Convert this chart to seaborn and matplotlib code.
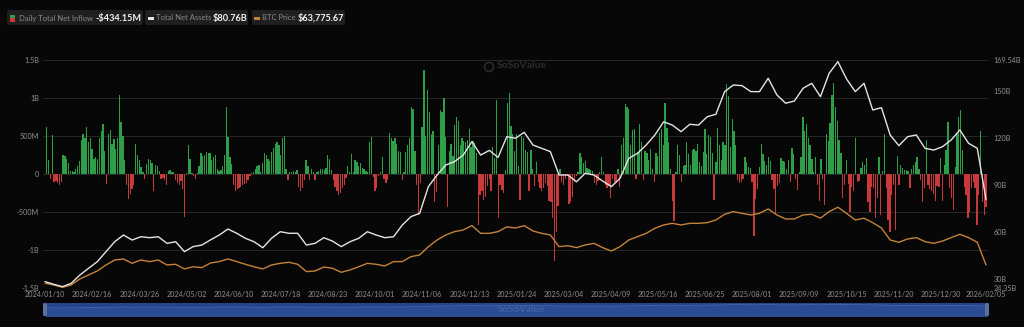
import numpy as np
import pandas as pd
import matplotlib
matplotlib.use("Agg")
import matplotlib.pyplot as plt
import matplotlib.transforms as mtransforms
from matplotlib.patches import Rectangle, FancyBboxPatch, Circle
import seaborn as sns

# ---------------- data ----------------
first_day = "2024-01-10"
last_day = "2026-02-05"
market_holidays = [
    "2024-01-15", "2024-02-19", "2024-03-29", "2024-05-27", "2024-06-19",
    "2024-07-04", "2024-09-02", "2024-11-28", "2024-12-25",
    "2025-01-01", "2025-01-09", "2025-01-20", "2025-02-17", "2025-04-18",
    "2025-05-26", "2025-06-19", "2025-07-04", "2025-09-01", "2025-11-27",
    "2025-12-25", "2026-01-01", "2026-01-19",
]

# daily total net inflow, millions USD (one value per trading day)
flows_2024_h1 = [
    0, 620, 190, -60, 510, -110, -90, -120, -150,
    -110, 250, 240, 200, 150, 40, 40, 30, 60, 100,
    170, 450, 520, 480, 620, 420, 470, 330, 200,
    230, 200, 480, 570, 660, 300, -130, 520, 580, 400,
    460, 330, 470, 1040, 680, 500, 180, -150, -330, -260,
    -200, -150, 400, 250, 180, 90, 20, -60, 130, 200,
    190, 140, -230, 120, 100, 40, -60, -50, -80, -140,
    40, 50, 30, 20, -80, -120, -150, -90, -200,
    -560, 10, 380, 200, 10, -20, -60, 10, 100,
]
flows_2024_q3 = [
    270, 240, 250, 290, 270, 280, 180, 220, 250, 60,
    40, 50, 100, 250, 887, 490, 220, 130, -150,
    -230, -200, -180, -170, -150, -130, -120, -80, -20, 10,
    30, 60, 110, 120, 20, 140, 280, 250, 200, 170,
    290, 340, 400, 420, 380, 250, 470, 500, 70, -80,
    20, 30, 40, 20, 50, -170, -230, -190, -80,
    180, 110, -80, 60, 30, -80, 30, 40, 60, 70,
    50, 80, 250, 200, 50, -80, -170, -230, -280, -250,
    -190, -140, -50, 110, 20, 260, 30, 190, 160,
    110,
]
flows_2024_q4 = [
    140, 80, 60, 40, 20, 420, 490, -40, -230,
    -190, -30, 20, 230, -60, -120, -80, 540, 470,
    440, 470, 400, 300, 290, -80, 20, 290, 380, 470,
    880, 860, 300, -150, -540, -120, 620, 1370, 500, 1110,
    820, 520, 560, -365, -240, 380, 840, 810, 1000, 490,
    -430, 300, 390, 240, 650, 750, 700, 380, 470,
    430, 420, 450, 590, 350, 430, 410, 270, -670, -270,
    -220, -340, -300, -160, -60, -230, 360, 210, 970,
    -580, -150, -210, -250, 50, 930, 1060, 630, 530, 300,
    520, 100, -340, 500, 470, 310,
]
flows_2025_h1 = [
    290, -230, 310, 60,
    -160, 160, -100, -190, -230, -180, -120, -160, -360,
    -370, -580, -1140, -760, -420, 60, -100, -140, -70, -30,
    -400, -370, -300, -100, -30, 30, 270, 220, 150,
    170, 80, 70, 50, 40, -120, -140, -90, 20, 230,
    30, -150, -190, -160, -320, -60, -100, -100, 70,
    -170, 380, 470, 920, 880, 860, 380, 580, 590, -60,
    290, 660, 420, -80, 300, 280, 190, 330, 70, -100,
    280, 240, 540, 590, 380, 930, 600, 420, 60,
    -360, -620, 20, 380, 250, -100, 100, 120,
]
flows_2025_q3 = [
    420, 260,
    120, 310, 330, 300, 400, 160, 110, 290, 590, 260,
    510, 490, 280, -340, 160, 600, 380, 190, 420, 380,
    1180, 1030, 360, 730, 560, 380, -80, -120, -100, -60,
    220, 160, 90, 80, -110, -820, -330, -200, 90,
    400, 260, 170, 120, 230, 170, -80, -200, -520,
    -160, -120, 210, 170, 160, 70, 180, -110, 340, 260,
    -60, -210, 30, 230, 750, 560, 660, 480, 380, 200,
    30, 230, -140, -360, 200, -70, -410, 520, 440,
    670, 1040, 1200, 880, 700, 450, 280, -320, -150,
]
flows_2025_q4 = [
    180,
    -130, -500, -170, -230, 470, -100, -90, 80, 160, 120,
    210, -370, -500, -170, -190, -580, -320, 230, -540, 40,
    520, -190, -600, -760, -280, -140, -740, 240, -150,
    120, 80, 50, 50, 40, -190, 70, 120,
    160, 230, 70, -80, -370, -190, 450, -150, -200, -220,
    -260, -360, -160, -170, 210, -360, 120, 310, 690, -190,
    -320, -480, 90, 520, 750, 840, 310, -170, -280, -580,
    -500, -190, -110, -180, -670, -280, 560, -370, -540,
    -434.15,
]

# total net assets (billions USD), evenly sampled along the trading days
total_net_assets = [
    28.4, 26.7, 25.2, 27.3, 32.6, 36.9, 41.1, 47.5, 53.8, 58.1,
    54.9, 57.0, 56.4, 57.0, 52.8, 53.8, 47.5, 50.7, 51.7, 55.0,
    58.1, 61.9, 59.2, 56.0, 53.8, 50.0, 56.0, 60.2, 59.2, 59.2,
    51.7, 52.8, 56.4, 54.2, 50.7, 53.8, 56.0, 60.2, 58.1, 56.4,
    57.0, 64.4, 69.8, 71.9, 88.9, 96.3, 102.7, 104.8, 109.0, 117.6,
    109.0, 112.0, 107.5, 120.7, 119.7, 123.5, 115.4, 113.3, 111.2, 96.3,
    96.3, 92.0, 97.4, 96.3, 92.5, 88.9, 94.2, 106.9, 110.1, 115.4,
    121.8, 130.2, 128.1, 123.9, 128.6, 128.1, 133.4, 135.0, 149.4, 153.6,
    153.2, 149.4, 149.4, 157.9, 147.3, 142.0, 143.4, 151.5, 154.7, 146.2,
    161.1, 168.5, 157.4, 149.4, 154.7, 137.7, 139.2, 121.8, 115.0, 120.7,
    121.8, 113.3, 112.2, 114.3, 118.6, 125.0, 116.5, 113.3, 80.76,
]
# BTC price (thousands USD), evenly sampled along the trading days
btc_price = [
    44.6, 42.8, 40.3, 42.8, 49.1, 53.3, 57.5, 63.8, 69.0, 70.1,
    65.5, 69.0, 67.3, 69.0, 63.8, 64.5, 59.6, 61.9, 61.0, 65.9,
    67.3, 70.1, 67.3, 64.5, 61.9, 59.6, 63.8, 65.5, 66.6, 64.5,
    56.8, 57.5, 61.6, 60.3, 56.1, 58.5, 61.9, 65.5, 64.5, 62.7,
    67.3, 67.3, 72.5, 74.3, 83.0, 90.0, 95.3, 98.8, 100.5, 105.1,
    97.0, 97.0, 98.8, 103.8, 102.6, 105.1, 99.5, 97.0, 95.3, 83.0,
    84.0, 82.0, 84.8, 86.5, 82.0, 78.5, 83.0, 90.0, 93.5, 97.0,
    102.3, 105.8, 107.5, 105.8, 107.5, 107.5, 108.2, 111.0, 117.0, 119.8,
    118.0, 116.3, 118.0, 122.6, 116.3, 112.1, 112.1, 116.3, 117.0, 112.9,
    119.8, 124.4, 118.0, 111.0, 112.9, 108.2, 102.6, 90.0, 87.6, 91.1,
    92.5, 88.3, 86.5, 88.9, 92.5, 96.0, 92.5, 87.6, 63.78,
]

left_ticks = [-1.5e9, -1e9, -5e8, 0, 5e8, 1e9, 1.5e9]
left_labels = ["-1.5B", "-1B", "-500M", "0", "500M", "1B", "1.5B"]
right_ticks = [24.35, 30, 60, 90, 120, 150, 169.54]
right_labels = ["24.35B", "30B", "60B", "90B", "120B", "150B", "169.54B"]
legend_items = [("Daily Total Net Inflow", "-$434.15M"),
                ("Total Net Assets", "$80.76B"),
                ("BTC Price", "$63,775.67")]

# ---------------- build ----------------
dates = pd.bdate_range(first_day, last_day, freq="C", holidays=market_holidays)
flows = np.array(flows_2024_h1 + flows_2024_q3 + flows_2024_q4 +
                 flows_2025_h1 + flows_2025_q3 + flows_2025_q4, dtype=float)
n = len(dates)
assert len(flows) == n, (len(flows), n)
line_pos = np.linspace(0, n - 1, len(total_net_assets))

sns.set_theme(style="dark")
plt.rcParams['font.family'] = ['Lato', 'DejaVu Sans']

W, H = 1024, 327
BG = '#070707'
GREEN, RED, WHITE, ORANGE = '#2e9e49', '#c8393b', '#e4e4e4', '#c58239'
fig = plt.figure(figsize=(W / 100, H / 100), dpi=100, facecolor=BG)
pix = mtransforms.Affine2D().scale(1 / W, -1 / H).translate(0, 1) + fig.transFigure

def fa(x0, y0, x1, y1):
    return [x0 / W, 1 - y1 / H, (x1 - x0) / W, (y1 - y0) / H]

ax = fig.add_axes(fa(43, 60, 988, 288))
ax.set_facecolor(BG)
df = pd.DataFrame({'i': np.arange(n), 'flow': flows * 1e6})
df['sign'] = np.where(df['flow'] >= 0, 'in', 'out')
sns.barplot(data=df, x='i', y='flow', hue='sign',
            palette={'in': GREEN, 'out': RED}, dodge=False,
            native_scale=True, width=0.72, errorbar=None, legend=False,
            saturation=1, linewidth=0, ax=ax)
scale = (986 - 45) / (n - 1)
xlim = (-2 / scale, n - 1 + 2 / scale)
ax.set_xlim(xlim)
ax.set_ylim(-1.5e9, 1.5e9)
ax.set_yticks(left_ticks)
ax.set_yticklabels(left_labels)
tick_pos = list(range(0, n - 13, 26)) + [n - 1]
ax.set_xticks(tick_pos)
ax.set_xticklabels(dates[tick_pos].strftime('%Y/%m/%d'))
ax.tick_params(axis='both', length=0, colors='#8f8f8f', labelsize=5.2, pad=2)
ax.tick_params(axis='y', pad=3)
ax.grid(False)
ax.yaxis.grid(True, color='#262626', lw=0.7)
ax.set_axisbelow(True)
ax.set_xlabel('')
ax.set_ylabel('')
for s in ax.spines.values():
    s.set_visible(False)

ax3 = ax.twinx()
sns.lineplot(x=line_pos, y=btc_price, color=ORANGE, lw=1.0, ax=ax3)
ax3.set_ylim(39.6, 279)
ax3.set_xlim(xlim)
ax3.axis('off')

ax2 = ax.twinx()
sns.lineplot(x=line_pos, y=total_net_assets, color=WHITE, lw=1.0, ax=ax2)
ax2.set_ylim(24.35, 169.54)
ax2.set_xlim(xlim)
ax2.set_yticks(right_ticks)
ax2.set_yticklabels(right_labels)
ax2.tick_params(axis='y', length=0, colors='#8f8f8f', labelsize=5.2, pad=4)
ax2.grid(False)
ax2.set_ylabel('')
for s in ax2.spines.values():
    s.set_visible(False)

# watermark
fig.text(497 / W, 1 - 66 / H, "SoSoValue", color='#2c2c2c', fontsize=7.5,
         fontweight='bold', va='center', ha='left')
fig.patches.append(Circle((489, 67), 4.5, transform=pix, fill=False,
                          edgecolor='#2c2c2c', lw=1.1))

# legend chips
chips = [(7, 143), (145, 248), (252, 345)]
label_x = [19, 156, 262]
value_x = [95, 213, 298]
for (c0, c1), lx, vx, (lab, val) in zip(chips, label_x, value_x, legend_items):
    fig.patches.append(FancyBboxPatch((c0, 10), c1 - c0, 15, boxstyle="round,pad=0,rounding_size=2",
                                      transform=pix, facecolor='#1f1f1f', edgecolor='none'))
    fig.text(lx / W, 1 - 18 / H, lab, color='#8a8a8a', fontsize=5.5, va='center', ha='left')
    fig.text(vx / W, 1 - 18 / H, val, color='#f2f2f2', fontsize=6.6, fontweight='bold',
             va='center', ha='left')
fig.patches.append(Rectangle((10, 14.5), 5, 3.5, transform=pix, facecolor=GREEN, edgecolor='none'))
fig.patches.append(Rectangle((10, 18), 5, 3.5, transform=pix, facecolor=RED, edgecolor='none'))
fig.patches.append(Rectangle((148, 16.5), 6, 3, transform=pix, facecolor=WHITE, edgecolor='none'))
fig.patches.append(Rectangle((254, 16.5), 6, 3, transform=pix, facecolor=ORANGE, edgecolor='none'))

# navigator
nav = fig.add_axes(fa(43, 303, 989, 316))
nav.set_facecolor('#24438a')
nav.fill_between(line_pos, total_net_assets, -400, color='#2a4c95', lw=0)
nav.plot(line_pos, total_net_assets, color='#4467b0', lw=0.6)
nav.set_xlim(xlim)
nav.set_ylim(-300, 220)
nav.set_xticks([])
nav.set_yticks([])
for s in nav.spines.values():
    s.set_visible(False)
fig.patches.append(FancyBboxPatch((43, 303), 4, 13, boxstyle="round,pad=0,rounding_size=2",
                                  transform=pix, facecolor='#5d7099', edgecolor='none'))
fig.patches.append(FancyBboxPatch((985, 303), 4, 13, boxstyle="round,pad=0,rounding_size=2",
                                  transform=pix, facecolor='#5d7099', edgecolor='none'))
fig.text(498 / W, 1 - 310 / H, "SoSoValue", color='#4261a0', fontsize=7,
         fontweight='bold', va='center', ha='left')

fig.savefig('out.png', dpi=100, facecolor=BG)
